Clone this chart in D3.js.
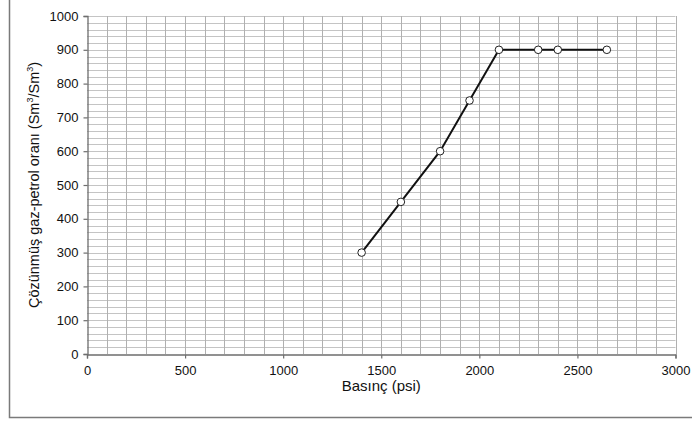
<!DOCTYPE html>
<html>
<head>
<meta charset="utf-8">
<script src="https://cdn.jsdelivr.net/npm/d3@7"></script>
<style>
  body { margin: 0; background: #fff; }
  svg { font-family: "Liberation Sans", Arial, sans-serif; }
</style>
</head>
<body>
<div id="chart"></div>
<script>
// data
var pressure = [1400, 1600, 1800, 1950, 2100, 2300, 2400, 2650];
var gasOil = [300, 450, 600, 750, 900, 900, 900, 900];
var xTicks = [0, 500, 1000, 1500, 2000, 2500, 3000];
var yTicks = [0, 100, 200, 300, 400, 500, 600, 700, 800, 900, 1000];

var w = 692;
var h = 421;
var margin = {left: 87, right: 16, top: 16, bottom: 67};

var svg = d3.select("#chart")
    .append("svg")
    .attr("width", w)
    .attr("height", h);

// outer frame (only left and bottom edges show)
svg.append("rect")
    .attr("x", 9.5)
    .attr("y", -10)
    .attr("width", w + 20)
    .attr("height", 417.5 + 10)
    .attr("fill", "none")
    .attr("stroke", "#7a7a7a")
    .attr("stroke-width", 1.5);

var x = d3.scaleLinear().domain([0, 3000]).range([margin.left, w - margin.right - 0.5]);
var y = d3.scaleLinear().domain([0, 1000]).range([h - margin.bottom, margin.top]);

var data = pressure.map(function(p, i) { return {p: p, g: gasOil[i]}; });

// grid
var grid = svg.append("g");
grid.selectAll(".hg")
    .data(d3.range(20, 1001, 20))
    .enter().append("line")
    .attr("x1", x(0)).attr("x2", x(3000))
    .attr("y1", function(d) { return Math.round(y(d)) + 0.5; })
    .attr("y2", function(d) { return Math.round(y(d)) + 0.5; })
    .attr("stroke", "#c4c4c4")
    .attr("stroke-width", 1);

grid.selectAll(".vg")
    .data(d3.range(100, 3001, 100))
    .enter().append("line")
    .attr("y1", y(0)).attr("y2", y(1000))
    .attr("x1", function(d) { return Math.round(x(d)) + 0.5; })
    .attr("x2", function(d) { return Math.round(x(d)) + 0.5; })
    .attr("stroke", "#b0b0b0")
    .attr("stroke-width", 1);

// axes
var xAxis = d3.axisBottom(x).tickValues(xTicks).tickFormat(d3.format("d")).tickSize(4).tickPadding(7);
var yAxis = d3.axisLeft(y).tickValues(yTicks).tickFormat(d3.format("d")).tickSize(4).tickPadding(5);

var gx = svg.append("g")
    .attr("transform", "translate(0," + (Math.round(y(0)) + 0.5) + ")")
    .call(xAxis);
var gy = svg.append("g")
    .attr("transform", "translate(" + (Math.round(x(0)) + 0.5) + ",0)")
    .call(yAxis);

[gx, gy].forEach(function(g) {
    g.select(".domain").attr("stroke", "#6e6e6e").attr("stroke-width", 1.3);
    g.selectAll(".tick line").attr("stroke", "#6e6e6e").attr("stroke-width", 1.2);
    g.selectAll(".tick text")
        .attr("fill", "#111")
        .style("font-size", "13px")
        .style("font-family", "'Liberation Sans', Arial, sans-serif");
});

// axis titles
svg.append("text")
    .attr("x", (x(0) + x(3000)) / 2)
    .attr("y", 391)
    .attr("text-anchor", "middle")
    .style("font-size", "15px")
    .attr("fill", "#111")
    .text("Basınç (psi)");

var yt = svg.append("text")
    .attr("transform", "translate(39," + ((y(0) + y(1000)) / 2) + ") rotate(-90)")
    .attr("text-anchor", "middle")
    .style("font-size", "14.5px")
    .attr("fill", "#111");
yt.append("tspan").text("Çözünmüş gaz-petrol oranı (Sm");
yt.append("tspan").attr("dy", -6).style("font-size", "9px").text("3");
yt.append("tspan").attr("dy", 6).text("/Sm");
yt.append("tspan").attr("dy", -6).style("font-size", "9px").text("3");
yt.append("tspan").attr("dy", 6).text(")");

// line and markers
var line = d3.line()
    .x(function(d) { return x(d.p); })
    .y(function(d) { return y(d.g); });

svg.append("path")
    .datum(data)
    .attr("d", line)
    .attr("fill", "none")
    .attr("stroke", "#111")
    .attr("stroke-width", 2);

svg.selectAll(".pt")
    .data(data)
    .enter().append("circle")
    .attr("cx", function(d) { return x(d.p); })
    .attr("cy", function(d) { return y(d.g); })
    .attr("r", 3.8)
    .attr("fill", "#fff")
    .attr("stroke", "#222")
    .attr("stroke-width", 1);
</script>
</body>
</html>
